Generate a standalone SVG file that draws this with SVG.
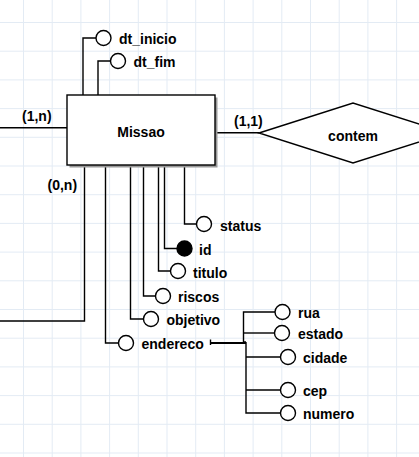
<svg xmlns="http://www.w3.org/2000/svg" width="419" height="457" viewBox="0 0 419 457">
<style>
.ln{fill:none;stroke:#000;stroke-width:1.4}
.at{fill:#fff;stroke:#000;stroke-width:1.4}
.t{font-family:"Liberation Sans",Arial,sans-serif;font-weight:bold;font-size:14px;fill:#000}
</style>
<defs>
<pattern id="grid" patternUnits="userSpaceOnUse" x="23" y="22" width="28.7" height="28.7">
<path d="M0 0.5H28.7M0.5 0V28.7" fill="none" stroke="#e3ebf4" stroke-width="1"/>
</pattern>
</defs>
<rect width="419" height="457" fill="#fff"/>
<rect width="419" height="457" fill="url(#grid)"/>
<g id="connectors" class="ln">
<path d="M0 127.7H67"/>
<path d="M215 132.7H259"/>
<path d="M84.5 165V321H0"/>
<path d="M83 95V38H96"/>
<path d="M98 95V61H110.5"/>
<path d="M105.5 165V343H118.5"/>
<path d="M130.5 165V319H143.5"/>
<path d="M143.5 165V296H155.5"/>
<path d="M158.5 165V271H170.5"/>
<path d="M164.5 165V248.5H177"/>
<path d="M184.5 165V224H196.5"/>
<path d="M210 343H246" stroke-width="2"/>
<path d="M210.5 339.5V345"/>
<path d="M275 312H243.5V342H246"/>
<path d="M243.5 333H274.5"/>
<path d="M246 342V413H280.5"/>
<path d="M246 357H280.5"/>
<path d="M246 390H280.5"/>
</g>
<g id="missao">
<rect x="69.5" y="97.5" width="148" height="70" fill="#999"/>
<rect x="67" y="95" width="148" height="70" class="at"/>
<text x="141" y="137" class="t" text-anchor="middle">Missao</text>
</g>
<g id="contem">
<polygon points="259,133 353,103 447,133 353,163" class="at"/>
<text x="353" y="141" class="t" text-anchor="middle">contem</text>
</g>
<g id="card-1n"><text x="22" y="121" class="t">(1,n)</text></g>
<g id="card-11"><text x="234" y="126" class="t">(1,1)</text></g>
<g id="card-0n"><text x="47.5" y="190" class="t">(0,n)</text></g>
<g id="attr-dt_inicio"><circle cx="103.5" cy="38" r="7.5" class="at"/><text x="119" y="44" class="t">dt_inicio</text></g>
<g id="attr-dt_fim"><circle cx="118" cy="61" r="7.5" class="at"/><text x="133.5" y="66.5" class="t">dt_fim</text></g>
<g id="attr-status"><circle cx="204" cy="224" r="7.5" class="at"/><text x="220" y="230.5" class="t">status</text></g>
<g id="attr-id"><circle cx="184.5" cy="248.5" r="7.5" fill="#000" stroke="#000" stroke-width="1.4"/><text x="199" y="254.5" class="t">id</text></g>
<g id="attr-titulo"><circle cx="178" cy="271" r="7.5" class="at"/><text x="193" y="277.5" class="t">titulo</text></g>
<g id="attr-riscos"><circle cx="163" cy="296" r="7.5" class="at"/><text x="178" y="301.5" class="t">riscos</text></g>
<g id="attr-objetivo"><circle cx="151" cy="319" r="7.5" class="at"/><text x="166.5" y="325" class="t">objetivo</text></g>
<g id="attr-endereco"><circle cx="126" cy="343" r="7.5" class="at"/><text x="141.5" y="349" class="t">endereco</text></g>
<g id="attr-rua"><circle cx="282.5" cy="312" r="7.5" class="at"/><text x="298" y="318" class="t">rua</text></g>
<g id="attr-estado"><circle cx="282" cy="333" r="7.5" class="at"/><text x="298" y="339" class="t">estado</text></g>
<g id="attr-cidade"><circle cx="288" cy="357" r="7.5" class="at"/><text x="303" y="362.5" class="t">cidade</text></g>
<g id="attr-cep"><circle cx="288" cy="390" r="7.5" class="at"/><text x="303" y="396" class="t">cep</text></g>
<g id="attr-numero"><circle cx="288" cy="413" r="7.5" class="at"/><text x="303" y="419" class="t">numero</text></g>
</svg>
